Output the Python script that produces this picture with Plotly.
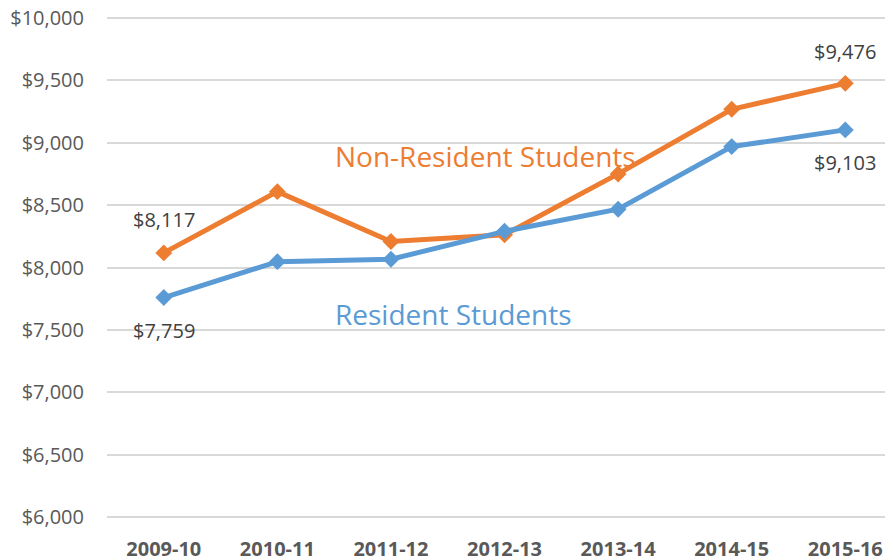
import plotly.graph_objects as go

# dados
anos = ["2009-10", "2010-11", "2011-12", "2012-13", "2013-14", "2014-15", "2015-16"]
nao_residentes = [8117, 8608, 8208, 8262, 8750, 9268, 9476]
residentes = [7759, 8047, 8066, 8290, 8467, 8969, 9103]
y_ticks = [6000, 6500, 7000, 7500, 8000, 8500, 9000, 9500, 10000]

laranja = "#ED7D31"
azul = "#5B9BD5"

fig = go.Figure()

fig.add_trace(go.Scatter(x=anos, y=nao_residentes, mode="lines+markers", name="Non-Resident Students",
                         line=dict(color=laranja, width=5),
                         marker=dict(symbol="diamond", size=13, color=laranja)))
fig.add_trace(go.Scatter(x=anos, y=residentes, mode="lines+markers", name="Resident Students",
                         line=dict(color=azul, width=5),
                         marker=dict(symbol="diamond", size=13, color=azul)))

# rotulos de dados (primeiro e ultimo ponto)
rotulos = [
    (0, nao_residentes[0], 33),
    (0, residentes[0], -33),
    (6, nao_residentes[6], 32),
    (6, residentes[6], -33),
]
for i, v, desl in rotulos:
    fig.add_annotation(x=anos[i], y=v, text=f"${v:,}", showarrow=False, yshift=desl,
                       font=dict(family="Open Sans", size=20, color="#404040"))

# nomes das series
fig.add_annotation(x=2.83, y=8890, text="Non-Resident Students", showarrow=False,
                   font=dict(family="Open Sans", size=28, color=laranja))
fig.add_annotation(x=2.55, y=7630, text="Resident Students", showarrow=False,
                   font=dict(family="Open Sans", size=28, color=azul))

# a pagina html tem margem de 8px no body, por isso 885x552
fig.update_layout(
    width=885, height=552,
    margin=dict(l=99, r=0, t=5, b=38),
    plot_bgcolor="white", paper_bgcolor="white",
    showlegend=False,
    font=dict(family="Open Sans", color="#595959"),
)
fig.update_xaxes(type="category", range=[-0.5, 6.42], showgrid=False, showline=False,
                 automargin=False, ticklabeloverflow="allow",
                 tickfont=dict(family="Open Sans", size=20, color="#595959", weight="bold"),
                 ticklabelstandoff=13)
# range um pouco maior para a grade de $10,000 aparecer
fig.update_yaxes(range=[5960, 10040], tickvals=y_ticks, ticktext=[f"${v:,}" for v in y_ticks],
                 showgrid=True, gridcolor="#D9D9D9", gridwidth=1.5, zeroline=False, showline=False,
                 automargin=False, ticklabeloverflow="allow",
                 tickfont=dict(family="Open Sans", size=20, color="#595959"),
                 ticklabelstandoff=22)

fig.write_html("out.html")
